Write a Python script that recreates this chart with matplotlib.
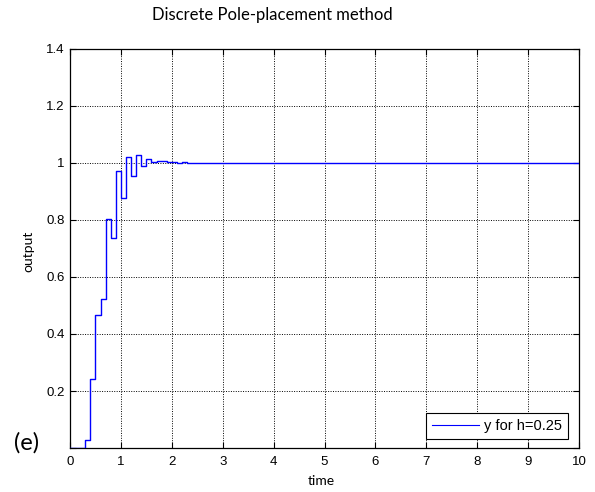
import matplotlib
matplotlib.use("Agg")
import matplotlib.pyplot as plt

# Sample instants where the held output changes, and the held values
step_times = [0.0, 0.3, 0.4, 0.5, 0.6, 0.7, 0.8, 0.9, 1.0, 1.1, 1.2, 1.3,
              1.4, 1.5, 1.6, 1.7, 1.8, 1.9, 2.0, 2.1, 2.2, 2.3, 2.4, 10.0]
output_vals = [0.0, 0.027, 0.241, 0.468, 0.522, 0.802, 0.738, 0.971, 0.877,
               1.020, 0.955, 1.028, 0.990, 1.015, 1.003, 1.008, 1.008, 1.004,
               1.003, 1.000, 1.002, 1.001, 1.000, 1.000]

x_ticks = [0, 1, 2, 3, 4, 5, 6, 7, 8, 9, 10]
y_ticks = [0, 0.2, 0.4, 0.6, 0.8, 1.0, 1.2, 1.4]
y_tick_labels = ["", "0.2", "0.4", "0.6", "0.8", "1", "1.2", "1.4"]

W, H = 595, 492
fig = plt.figure(figsize=(W / 100, H / 100), dpi=100)
L, R, T, B = 70, 579, 49, 448
ax = fig.add_axes([L / W, 1 - B / H, (R - L) / W, (B - T) / H])

ax.step(step_times, output_vals, where="post", color="#0000ff", lw=1.0,
        label="y for h=0.25", zorder=3)

ax.set_xlim(0, 10)
ax.set_ylim(0, 1.4)
ax.set_xticks(x_ticks)
ax.set_xticklabels([str(v) for v in x_ticks])
ax.set_yticks(y_ticks)
ax.set_yticklabels(y_tick_labels)

for lab in ax.get_xticklabels() + ax.get_yticklabels():
    lab.set_fontfamily("Liberation Sans")
    lab.set_fontsize(9.5)

ax.tick_params(direction="in", length=4, width=0.8, top=True, right=True,
               colors="black", pad=4)
ax.tick_params(axis="x", pad=6)
for s in ax.spines.values():
    s.set_linewidth(0.9)
    s.set_color("black")

ax.grid(True, color="black", linestyle=(0, (1, 1.5)), linewidth=0.7)
ax.set_axisbelow(True)

leg = ax.legend(loc="lower right", bbox_to_anchor=((567.7 - L) / (R - L), (B - 439) / (B - T)),
                borderaxespad=0, fancybox=False, framealpha=1, edgecolor="black",
                prop={"family": "Liberation Sans", "size": 10.5},
                handlelength=3.2, handletextpad=0.35, borderpad=0.4)
leg.get_frame().set_linewidth(0.8)
leg.legend_handles[0].set_linewidth(0.8)

fig.text(272 / W, 1 - 15 / H, "Discrete Pole-placement method", ha="center", va="center",
         fontsize=12, family="Lato")
fig.text(321 / W, 1 - 481 / H, "time", ha="center", va="center", fontsize=10, family="Lato")
fig.text(28 / W, 1 - 251 / H, "output", ha="center", va="center", rotation=90,
         fontsize=10, family="Lato")
fig.text(27 / W, 1 - 443 / H, "(e)", ha="center", va="center", fontsize=17, family="Lato")

fig.savefig("out.png", dpi=100)
